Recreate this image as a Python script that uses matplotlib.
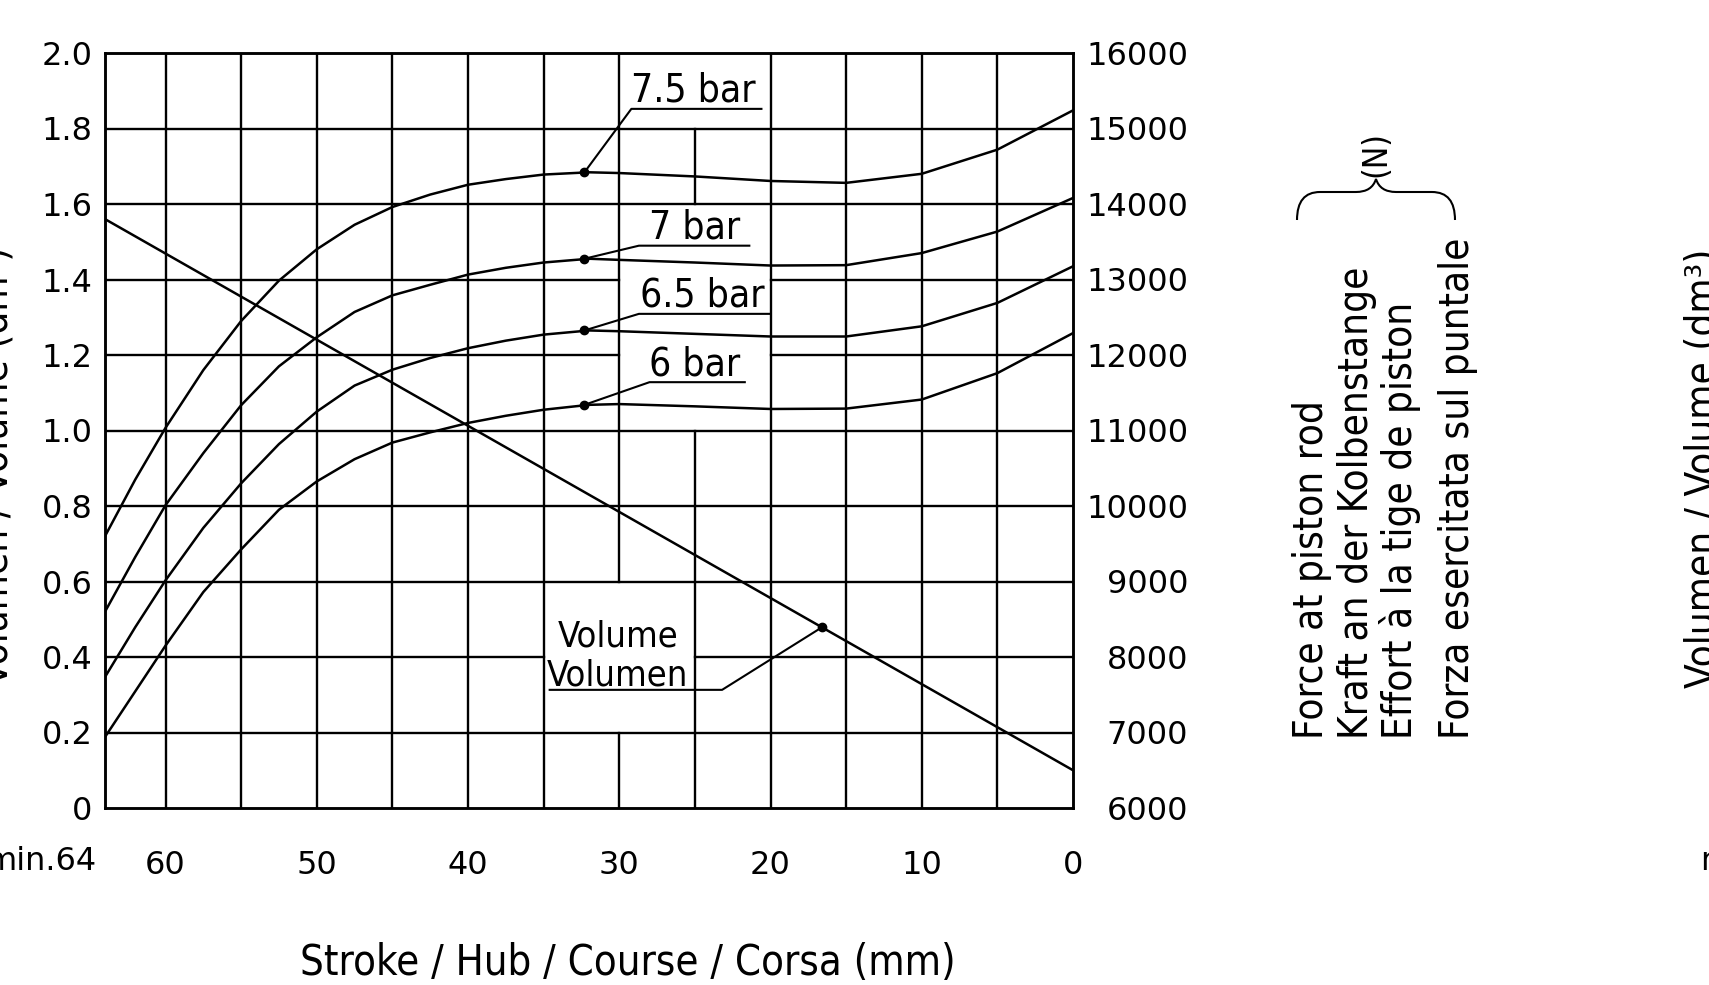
import matplotlib
matplotlib.use('Agg')
import matplotlib.pyplot as plt
import numpy as np
from matplotlib.path import Path
from matplotlib.patches import PathPatch

stroke = [64, 62, 60, 57.5, 55, 52.5, 50, 47.5, 45, 42.5, 40, 37.5, 35, 32, 30,
          25, 20, 15, 10, 5, 0]

# force at piston rod (N) for each supply pressure
force_75 = [9600, 10350, 11035, 11800, 12450, 12985, 13400, 13725, 13960, 14125, 14255,
            14330, 14390, 14420, 14410, 14365, 14305, 14280, 14400, 14720, 15240]
force_70 = [8600, 9325, 10010, 10700, 11335, 11850, 12235, 12570, 12790, 12930, 13065,
            13155, 13225, 13275, 13260, 13225, 13185, 13190, 13350, 13635, 14080]
force_65 = [7735, 8395, 9015, 9710, 10300, 10820, 11250, 11595, 11805, 11960, 12090,
            12190, 12270, 12325, 12315, 12280, 12245, 12245, 12380, 12690, 13175]
force_60 = [6940, 7545, 8150, 8860, 9425, 9950, 10325, 10620, 10840, 10975, 11100,
            11195, 11275, 11340, 11350, 11320, 11285, 11290, 11410, 11760, 12290]
pressure_labels = ['7.5 bar', '7 bar', '6.5 bar', '6 bar']

# volume (dm3) is a straight line over the stroke
vol_stroke = [64, 0]
volume = [1.56, 0.10]

vol_ticks = [0, 0.2, 0.4, 0.6, 0.8, 1.0, 1.2, 1.4, 1.6, 1.8, 2.0]
vol_ticklabels = ['0', '0.2', '0.4', '0.6', '0.8', '1.0', '1.2', '1.4', '1.6', '1.8', '2.0']
force_ticks = [6000, 7000, 8000, 9000, 10000, 11000, 12000, 13000, 14000, 15000, 16000]
stroke_ticks = [60, 50, 40, 30, 20, 10, 0]

NARROW = dict(family='DejaVu Sans', fontstretch='condensed')
W, H = 1709, 985
LW = 1.8

fig = plt.figure(figsize=(W / 100, H / 100), dpi=100)
ax = fig.add_axes([105 / W, 1 - 808 / H, (1073 - 105) / W, (808 - 53) / H])
ax.set_xlim(64, 0)
ax.set_ylim(0, 2.0)
ax2 = ax.twinx()
ax2.set_ylim(6000, 16000)

# grid drawn by hand, it is broken where the labels sit
vgaps = {30: [(0, 0.2), (0.6, 2.0)], 25: [(0, 1.0), (1.6, 1.8)]}
for s in range(60, 0, -5):
    for y0, y1 in vgaps.get(s, [(0, 2.0)]):
        ax.plot([s, s], [y0, y1], color='black', lw=1.7, zorder=1)
hgaps = {0.4: [(64, 35), (25, 0)], 1.2: [(64, 30), (20, 0)], 1.4: [(64, 30), (20, 0)]}
for v in vol_ticks[1:-1]:
    for x0, x1 in hgaps.get(v, [(64, 0)]):
        ax.plot([x0, x1], [v, v], color='black', lw=1.7, zorder=1)

for sp in list(ax.spines.values()) + list(ax2.spines.values()):
    sp.set_linewidth(LW)

# curves
forces = [force_75, force_70, force_65, force_60]
for f in forces:
    ax2.plot(stroke, f, color='black', lw=LW, solid_joinstyle='round')
ax.plot(vol_stroke, volume, color='black', lw=LW)

# labels with leaders: (text centre, underline start, underline end, underline force)
label_layout = [(25.1, 29.2, 20.6, 15260),
                (25.0, 28.7, 21.4, 13448),
                (24.5, 28.7, 20.0, 12545),
                (25.0, 28.0, 21.7, 11640)]
i32 = stroke.index(32)
for f, lab, (xc, u0, u1, uy) in zip(forces, pressure_labels, label_layout):
    ax2.plot([32.3], [f[i32]], 'o', color='black', ms=6)
    ax2.plot([32.3, u0, u1], [f[i32], uy, uy], color='black', lw=1.5)
    ax2.annotate(lab, (xc, uy), xytext=(0, 5), textcoords='offset points',
                 ha='center', va='baseline', fontsize=28, **NARROW)

vdot = 16.6
vy = np.interp(vdot, vol_stroke[::-1], volume[::-1])
ax.plot([vdot], [vy], 'o', color='black', ms=6)
ax.plot([vdot, 23.2, 34.6], [vy, 0.313, 0.313], color='black', lw=1.5)
ax.text(30.1, 0.428, 'Volume', ha='center', va='baseline', fontsize=26, **NARROW)
ax.text(30.1, 0.324, 'Volumen', ha='center', va='baseline', fontsize=26, **NARROW)

# ticks
ax.set_yticks(vol_ticks)
ax.set_yticklabels(vol_ticklabels)
ax.tick_params(axis='y', length=0, pad=9, labelsize=23)
ax2.set_yticks(force_ticks)
ax2.set_yticklabels([str(t) for t in force_ticks], ha='right')
ax2.tick_params(axis='y', length=0, pad=83, labelsize=23)
ax.set_xticks(stroke_ticks)
ax.set_xticklabels([str(t) for t in stroke_ticks])
ax.tick_params(axis='x', length=0, pad=30, labelsize=23)
fig.text(96 / W, 1 - 861 / H, 'min.64', ha='right', va='center', fontsize=23)
fig.text(1700 / W, 1 - 861 / H, 'min.64', ha='left', va='center', fontsize=23)

# axis titles
fig.text(628 / W, 1 - 963 / H, 'Stroke / Hub / Course / Corsa (mm)', ha='center', va='center',
         fontsize=30, **NARROW)
fig.text(8 / W, 1 - 466 / H, 'Volumen / Volume (dm³)', rotation=90, rotation_mode='anchor',
         ha='center', va='baseline', fontsize=29, **NARROW)
fig.text(1715 / W, 1 - 468 / H, 'Volumen / Volume (dm³)', rotation=90, rotation_mode='anchor',
         ha='center', va='baseline', fontsize=29, **NARROW)

force_title = ['Force at piston rod', 'Kraft an der Kolbenstange',
               'Effort à la tige de piston', 'Forza esercitata sul puntale']
for xb, line in zip([1323, 1368, 1412, 1469], force_title):
    fig.text(xb / W, 1 - 739 / H, line, rotation=90, rotation_mode='anchor',
             ha='left', va='baseline', fontsize=29, **NARROW)

# brace over the force title, with the unit
pts = [(1297, 220), (1297, 192), (1320, 192), (1356, 192), (1372, 192), (1376, 179),
       (1380, 192), (1396, 192), (1432, 192), (1455, 192), (1455, 220)]
codes = [Path.MOVETO, Path.CURVE3, Path.CURVE3, Path.LINETO, Path.CURVE3, Path.CURVE3,
         Path.CURVE3, Path.CURVE3, Path.LINETO, Path.CURVE3, Path.CURVE3]
brace = Path([(x / W, 1 - y / H) for x, y in pts], codes)
fig.add_artist(PathPatch(brace, transform=fig.transFigure, fill=False, lw=1.5, color='black'))
fig.text(1376 / W, 1 - 154 / H, '(N)', rotation=90, ha='center', va='center',
         fontsize=24, **NARROW)

fig.savefig('out.png', dpi=100)
